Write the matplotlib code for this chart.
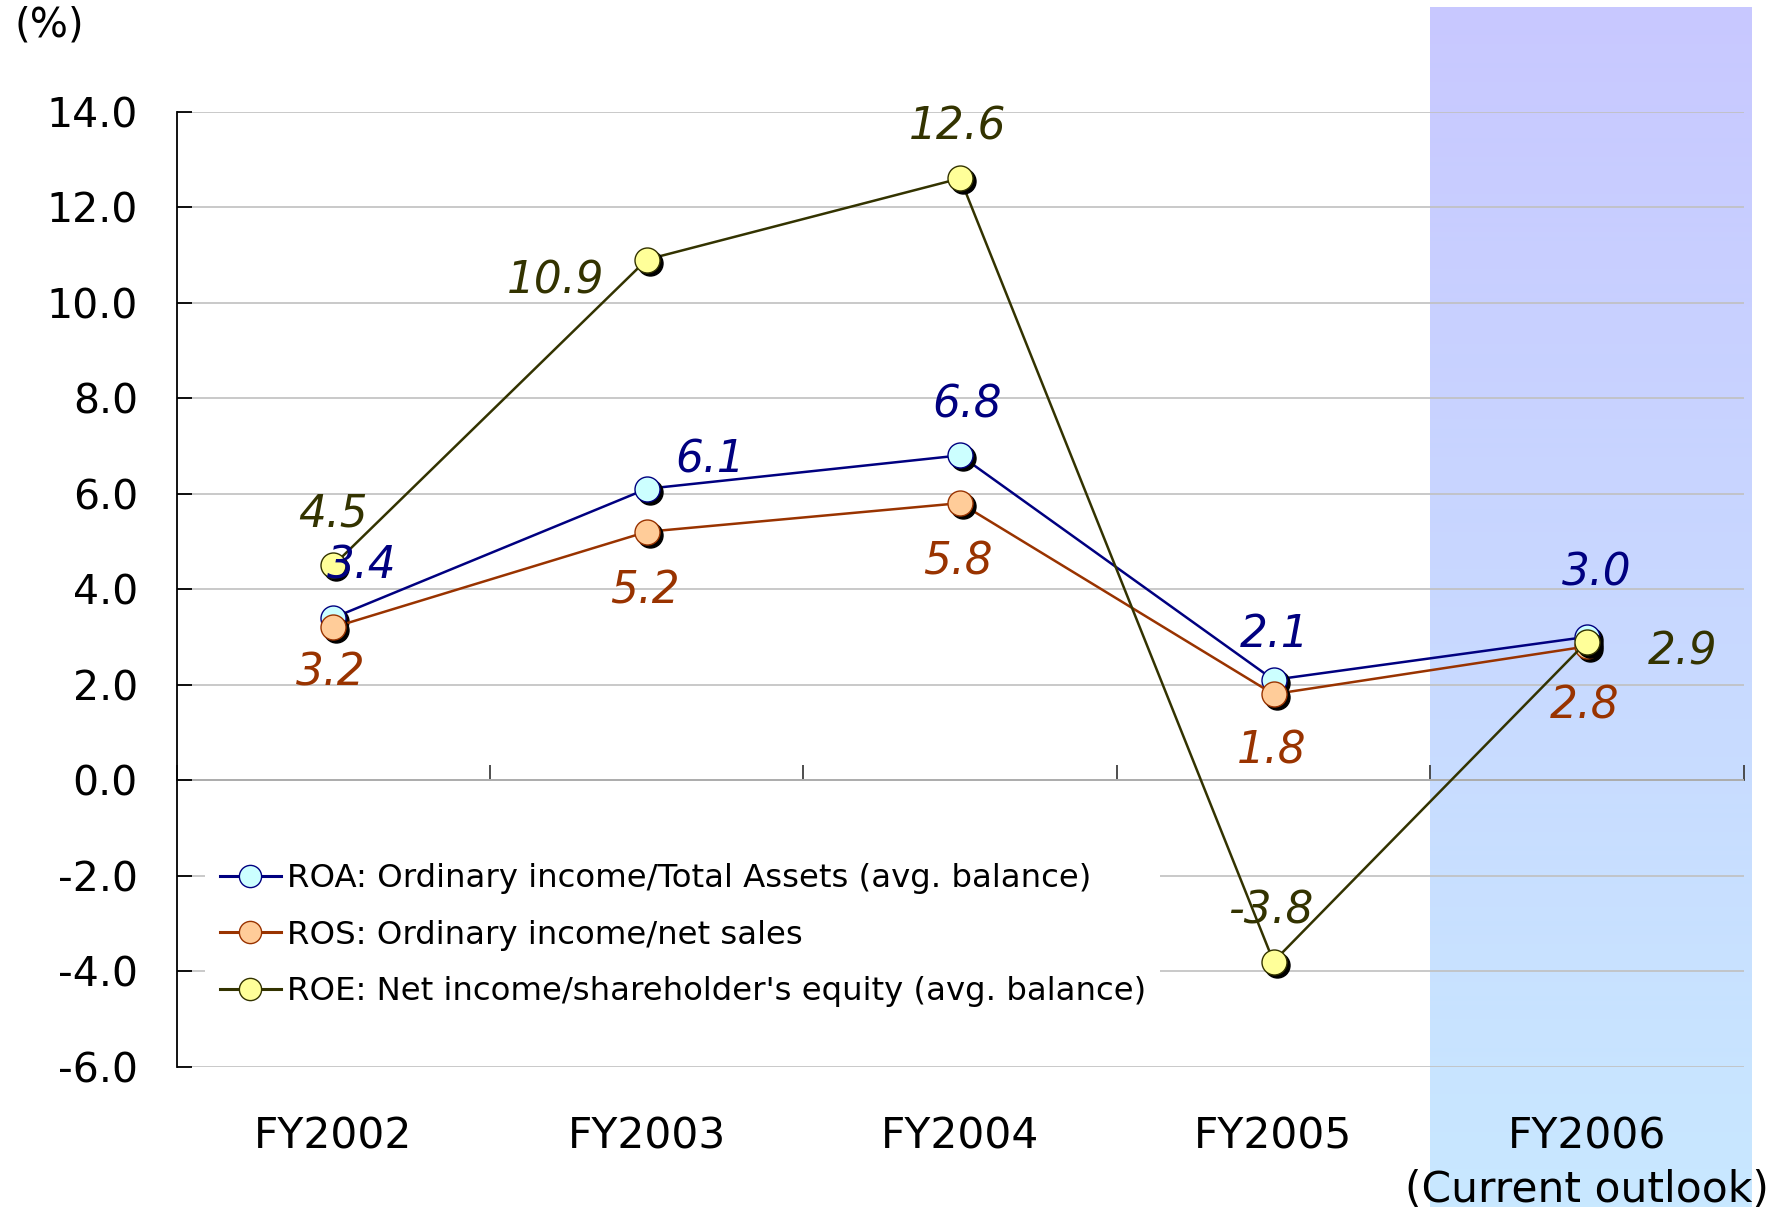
import numpy as np
import matplotlib
matplotlib.use("Agg")
import matplotlib.pyplot as plt
import matplotlib.transforms as mtransforms
from matplotlib.ticker import FixedLocator
from matplotlib.lines import Line2D

# ---- data -------------------------------------------------------------
categories = ["FY2002", "FY2003", "FY2004", "FY2005", "FY2006\n(Current outlook)"]
roa = [3.4, 6.1, 6.8, 2.1, 3.0]
ros = [3.2, 5.2, 5.8, 1.8, 2.8]
roe = [4.5, 10.9, 12.6, -3.8, 2.9]
y_ticks = [-6.0, -4.0, -2.0, 0.0, 2.0, 4.0, 6.0, 8.0, 10.0, 12.0, 14.0]
y_tick_labels = ["-6.0", "-4.0", "-2.0", "0.0", "2.0", "4.0", "6.0", "8.0", "10.0", "12.0", "14.0"]
series_names = [
    "ROA: Ordinary income/Total Assets (avg. balance)",
    "ROS: Ordinary income/net sales",
    "ROE: Net income/shareholder's equity (avg. balance)",
]

# label offsets (pixels) for the value annotations
roa_off = [(28, 52), (63, 29), (7, 50), (1, 45), (10, 64)]
ros_off = [(-3, -46), (-2, -59), (-2, -59), (-2, -57), (-2, -60)]
roe_off = [(0, 51), (-91, -21), (-3, 51), (-3, 51), (96, -10)]

line_colors = ["#000080", "#993300", "#333300"]
face_colors = ["#CCFFFF", "#FFCC99", "#FFFF99"]

plt.rcParams["font.family"] = ["DejaVu Sans"]

W, H, DPI = 1766, 1211, 100
fig = plt.figure(figsize=(W / DPI, H / DPI), dpi=DPI)
ax = fig.add_axes([0.1001, 0.1192, 0.8872, 0.7887])
ax.set_facecolor("none")
ax.set_zorder(2)

x = np.arange(len(categories))
ax.set_xlim(-0.5, len(categories) - 0.5)
ax.set_ylim(y_ticks[0], y_ticks[-1])

# gradient panel behind the outlook year
fig.canvas.draw()
to_fig = fig.transFigure.inverted()
left_fx = to_fig.transform(ax.transData.transform((len(categories) - 1.5, 0)))[0]
bg = fig.add_axes([left_fx, 4 / H, 1752 / W - left_fx, (H - 11) / H])
bg.set_zorder(0)
top_c = np.array([200, 200, 255]) / 255
bot_c = np.array([200, 232, 255]) / 255
t = np.linspace(0, 1, 256)[:, None]
grad = (top_c[None, :] * (1 - t) + bot_c[None, :] * t)[:, None, :]
bg.imshow(grad, aspect="auto", extent=[0, 1, 0, 1])
bg.axis("off")

# grid and axes styling
ax.yaxis.set_major_locator(FixedLocator(y_ticks))
ax.set_yticklabels(y_tick_labels)
ax.grid(axis="y", color="#c0c0c0", linewidth=1.2, zorder=0)
ax.set_axisbelow(True)
for side in ["top", "right", "bottom"]:
    ax.spines[side].set_visible(False)
ax.spines["left"].set_linewidth(1.3)
ax.tick_params(axis="y", direction="in", length=11, width=1.3, pad=28,
               labelsize=29.5, colors="black")

ax.set_xticks(x)
ax.set_xticklabels(categories)
ax.tick_params(axis="x", length=0, pad=35, labelsize=30.5)
for lab in ax.get_xticklabels():
    lab.set_linespacing(1.35)

# zero line with category boundary ticks
zero_frac = (0 - y_ticks[0]) / (y_ticks[-1] - y_ticks[0])
sec = ax.secondary_xaxis(zero_frac)
sec.set_xticks(np.arange(len(categories) + 1) - 0.5)
sec.set_xticklabels([])
sec.tick_params(direction="in", length=11, width=1.3, colors="#404040")
sec.spines["bottom"].set_color("#404040")
sec.spines["bottom"].set_linewidth(1.3)

# series with shadowed markers
shadow = mtransforms.offset_copy(ax.transData, fig=fig, x=3, y=-3, units="dots")
for vals, lc, fc, name, z in zip([roa, ros, roe], line_colors, face_colors,
                                  series_names, [3, 4, 5]):
    ax.plot(x, vals, color=lc, linewidth=1.8, zorder=z)
    ax.plot(x, vals, linestyle="none", marker="o", markersize=18,
            color="black", transform=shadow, zorder=z + 0.1)
    ax.plot(x, vals, marker="o", markersize=18, markerfacecolor=fc,
            markeredgecolor=lc, markeredgewidth=1.0, linestyle="none",
            zorder=z + 0.2)

# value labels
for vals, offs, lc in zip([roa, ros, roe], [roa_off, ros_off, roe_off], line_colors):
    for xi, v, (dx, dy) in zip(x, vals, offs):
        ax.annotate(f"{v:.1f}", (xi, v), xytext=(dx, dy), textcoords="offset pixels",
                    ha="center", va="center", fontsize=31.5, style="italic",
                    color=lc, zorder=10)

# legend (line + marker) on an opaque white panel
leg_handles = [Line2D([0], [0], color=lc, linewidth=2.2, marker="o", markersize=16,
                      markerfacecolor=fc, markeredgecolor=lc, markeredgewidth=1.0)
               for lc, fc in zip(line_colors, face_colors)]
leg = ax.legend(leg_handles, series_names, loc="upper left",
                bbox_to_anchor=(0.018, 0.128, 0.6096, 0.1), mode="expand",
                fontsize=23.3, frameon=True,
                fancybox=False, framealpha=1, facecolor="white", edgecolor="none",
                handlelength=1.9, handletextpad=0.2, labelspacing=0.78,
                borderpad=0.45, borderaxespad=0)
leg.set_zorder(6)

fig.text(15 / W, 1 - 25 / H, "(%)", fontsize=29, ha="left", va="center")

fig.savefig("out.png", dpi=DPI)
